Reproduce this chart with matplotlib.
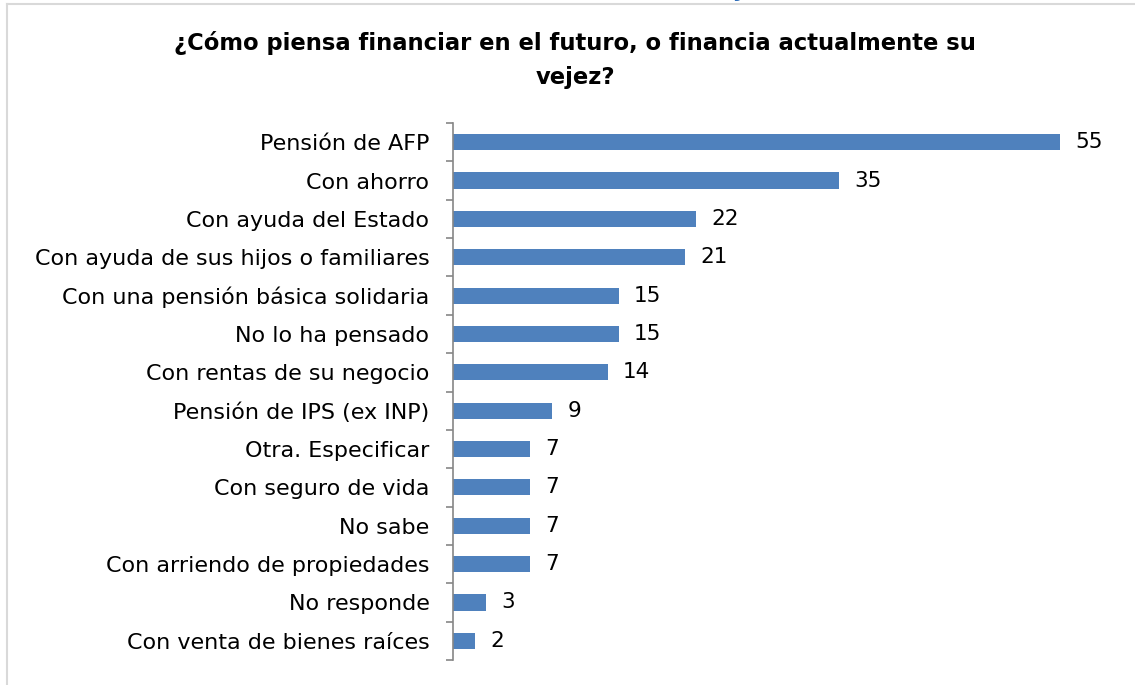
import matplotlib
matplotlib.use("Agg")
import matplotlib.pyplot as plt
from matplotlib.lines import Line2D

categories = [
    "Pensión de AFP",
    "Con ahorro",
    "Con ayuda del Estado",
    "Con ayuda de sus hijos o familiares",
    "Con una pensión básica solidaria",
    "No lo ha pensado",
    "Con rentas de su negocio",
    "Pensión de IPS (ex INP)",
    "Otra. Especificar",
    "Con seguro de vida",
    "No sabe",
    "Con arriendo de propiedades",
    "No responde",
    "Con venta de bienes raíces",
]
values = [55, 35, 22, 21, 15, 15, 14, 9, 7, 7, 7, 7, 3, 2]
title = "¿Cómo piensa financiar en el futuro, o financia actualmente su\nvejez?"

plt.rcParams['font.family'] = ['DejaVu Sans']

W, H = 1135, 685
fig = plt.figure(figsize=(W / 100, H / 100), dpi=100)
ax = fig.add_axes([453 / W, 25 / H, (1060 - 453) / W, (660 - 123) / H])

n = len(categories)
pos = list(range(n))
ax.barh(pos, values, height=0.42, color="#4F81BD", zorder=2)
ax.set_ylim(n - 0.5, -0.5)
ax.set_xlim(0, 55)

for p, v in zip(pos, values):
    ax.annotate(str(v), (v, p), xytext=(11, 0), textcoords="offset points",
                va="center", ha="left", fontsize=15.5, color="#000000",
                annotation_clip=False)

ax.set_yticks(pos)
ax.set_yticklabels(categories, fontsize=16, color="#000000")
ax.tick_params(axis="y", which="major", length=0, pad=17)
ax.set_yticks([i - 0.5 for i in range(n + 1)], minor=True)
ax.tick_params(axis="y", which="minor", length=5, width=1.2, color="#868686", direction="out")
ax.set_xticks([])
for s in ["top", "right", "bottom"]:
    ax.spines[s].set_visible(False)
ax.spines["left"].set_color("#868686")
ax.spines["left"].set_linewidth(1.2)

fig.text(575 / W, 1 - 60 / H, title, ha="center", va="center", fontsize=16.3,
         fontweight="bold", linespacing=1.6)

# frame lines
fig.add_artist(Line2D([7 / W, 7 / W], [0, 1 - 4 / H], transform=fig.transFigure,
                      color="#D9D9D9", lw=1.5))
fig.add_artist(Line2D([7 / W, 1], [1 - 4 / H, 1 - 4 / H], transform=fig.transFigure,
                      color="#D9D9D9", lw=1.5))
# heading above the frame, mostly outside the visible area (as in the reference)
fig.text(822 / W, 1 + 3 / H, "vejez (%)", ha="right", va="baseline", fontsize=16,
         fontweight="bold", color="#2F6EBA")

fig.savefig("out.png", dpi=100, facecolor="white")
